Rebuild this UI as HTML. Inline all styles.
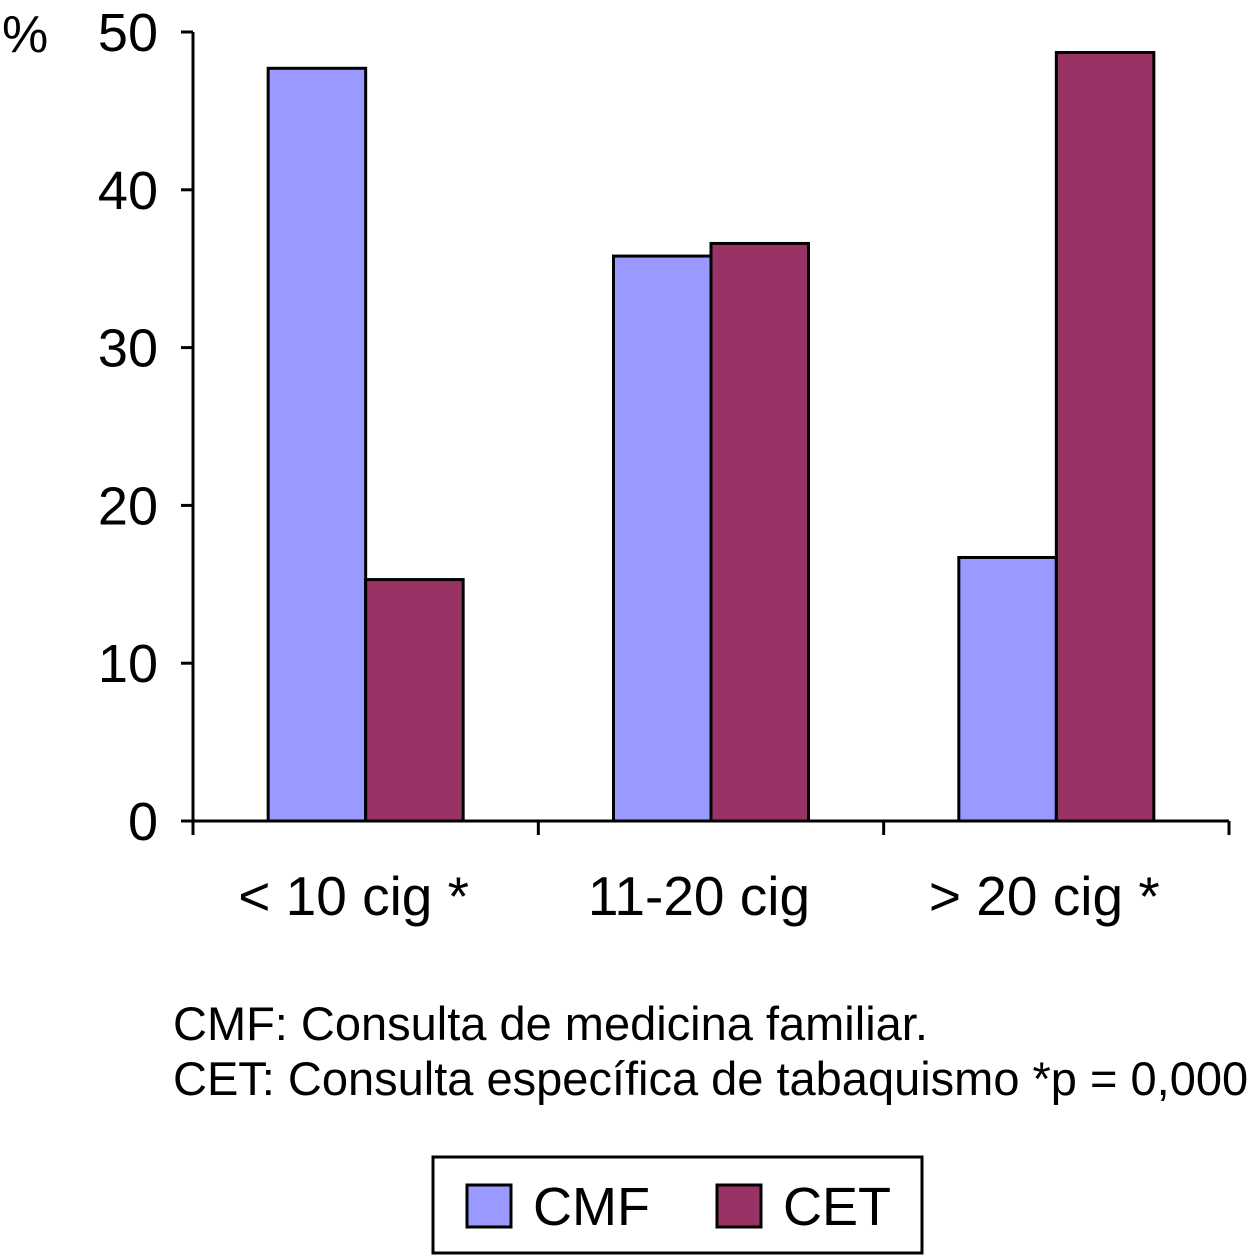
<!DOCTYPE html>
<html><head><meta charset="utf-8"><style>
html,body{margin:0;padding:0;background:#fff;}
svg{display:block;font-family:"Liberation Sans",Arial,sans-serif;}
</style></head><body>
<svg id="chart" width="1250" height="1255" viewBox="0 0 1250 1255">
<g id="axes"></g><g id="bars"></g>
<text x="2" y="52" font-size="52">%</text>
<text x="173" y="1040" font-size="47">CMF: Consulta de medicina familiar.</text>
<text x="173" y="1095" font-size="47">CET: Consulta específica de tabaquismo *p = 0,000</text>
<g>
<rect x="433" y="1157" width="489" height="96" fill="#fff" stroke="#000" stroke-width="3"/>
<rect x="467" y="1185" width="44" height="42" fill="#9999ff" stroke="#000" stroke-width="3"/>
<text x="533" y="1225" font-size="54">CMF</text>
<rect x="717" y="1185" width="44" height="42" fill="#993366" stroke="#000" stroke-width="3"/>
<text x="783" y="1225" font-size="54">CET</text>
</g>
</svg>
<script>
const categories=["< 10 cig *","11-20 cig","> 20 cig *"];
const cmfValues=[47.7,35.8,16.7];
const cetValues=[15.3,36.6,48.7];
const yTicks=[0,10,20,30,40,50];
const NS="http://www.w3.org/2000/svg";
const x0=193,x1=1229,yBase=821,yTop=32,yMax=50;
const y=v=>yBase-(v/yMax)*(yBase-yTop);
const gw=(x1-x0)/categories.length;
const axes=document.getElementById('axes'),bars=document.getElementById('bars');
function mk(tag,attrs,parent){const e=document.createElementNS(NS,tag);for(const k in attrs)e.setAttribute(k,attrs[k]);parent.appendChild(e);return e;}
let l=mk('line',{x1:x0,y1:yTop,x2:x0,y2:yBase,stroke:'#000','stroke-width':3},axes);


l=mk('line',{x1:x0,y1:yBase,x2:x1,y2:yBase,stroke:'#000','stroke-width':3},axes);


yTicks.forEach(t=>{
 const yy=y(t);
 mk('line',{x1:x0-12,y1:yy,x2:x0,y2:yy,stroke:'#000','stroke-width':3},axes);
 const tx=mk('text',{x:158,y:yy+19,'font-size':54,'text-anchor':'end'},axes);
 tx.textContent=t;
 
 
});
for(let i=0;i<=categories.length;i++){
 const xx=x0+i*gw;
 mk('line',{x1:xx,y1:yBase,x2:xx,y2:yBase+14,stroke:'#000','stroke-width':3},axes);
}
const bw=97.5;
categories.forEach((c,i)=>{
 const cx=x0+gw*(i+0.5);
 const r1=mk('rect',{x:cx-bw,y:y(cmfValues[i]),width:bw,height:yBase-y(cmfValues[i]),fill:'#9999ff',stroke:'#000','stroke-width':3},bars);
 
 
 const r2=mk('rect',{x:cx,y:y(cetValues[i]),width:bw,height:yBase-y(cetValues[i]),fill:'#993366',stroke:'#000','stroke-width':3},bars);
 
 
 const tx=mk('text',{x:cx-12,y:915,'font-size':55,'text-anchor':'middle'},axes);
 tx.textContent=c;
 
 
});
</script>
</body></html>
